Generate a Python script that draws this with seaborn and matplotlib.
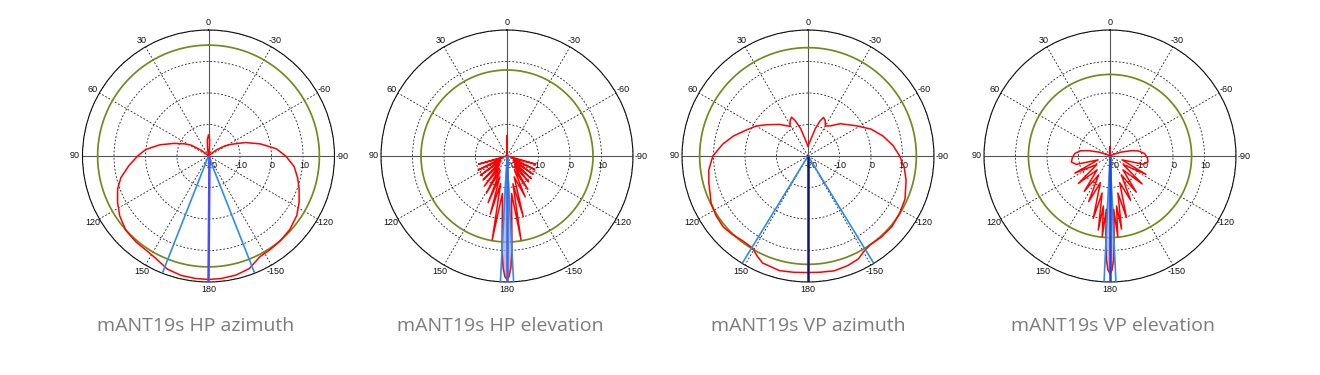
import numpy as np
import pandas as pd
import matplotlib
matplotlib.use("Agg")
import matplotlib.pyplot as plt
import seaborn as sns
from matplotlib.transforms import offset_copy

# ---------------- data (angles in degrees, positive = counter-clockwise / left; gain in dB) -------------
titles = ["mANT19s HP azimuth", "mANT19s HP elevation", "mANT19s VP azimuth", "mANT19s VP elevation"]

theta_ticks = [0, 30, 60, 90, 120, 150, 180, 210, 240, 270, 300, 330]
theta_labels = ["0", "30", "60", "90", "120", "150", "180", "-150", "-120", "-90", "-60", "-30"]
ring_values = [-20, -10, 0, 10]
ring_labels = ["-20", "-10", "0", "10"]

hp_az_deg = [-180, -174, -167, -160, -153, -147, -140, -132, -124, -117, -110, -104, -97, -90, -84,
             -77, -70, -63, -58, -52, -45, -30, -15, -9, -7, -4, 0, 4, 7, 9, 15, 30, 45, 52, 58, 63,
             70, 77, 84, 90, 97, 104, 110, 117, 124, 132, 140, 147, 153, 160, 167, 174, 180]
hp_az_db = [19.2, 19.1, 18.8, 18.0, 15.9, 15.6, 15.3, 14.8, 13.8, 12.3, 10.6, 9.2, 7.4, 4.5, 1.7,
            -3.0, -7.5, -11.8, -14.0, -17.0, -19.5, -20.0, -20.0, -19.7, -17.5, -14.8, -13.3, -14.8,
            -17.5, -19.7, -20.0, -20.0, -19.5, -17.0, -13.5, -11.5, -8.3, -4.2, 0.0, 2.5, 5.5, 8.7,
            10.7, 12.4, 14.0, 15.3, 15.7, 15.9, 16.6, 18.2, 18.9, 19.1, 19.2]

hp_el_deg = [-180, -179, -178, -177, -176, -175, -173, -170.5, -168, -165, -161, -156, -152, -148,
             -144, -140, -137, -133, -129, -125, -120, -116, -111, -106, -101, -95, -3, 0, 3, 95, 101,
             106, 111, 116, 121, 126, 130, 135, 139, 143, 147, 151, 155, 158, 161, 164, 167, 170, 173,
             175, 176, 177, 178, 179, 180]
hp_el_db = [19.2, 18.3, 15.5, 10.0, 2.0, -3.0, -8.0, 7.0, -11.0, -0.1, -13.0, -5.8, -15.0, -7.5,
            -16.0, -9.3, -16.5, -9.5, -17.5, -9.9, -17.5, -10.2, -18.0, -10.6, -19.5, -20.0, -20.0,
            -13.5, -20.0, -20.0, -19.5, -10.6, -18.0, -9.8, -17.5, -9.6, -17.5, -9.3, -16.5, -8.0,
            -15.5, -6.5, -15.0, -4.0, -13.0, -0.8, -11.0, 7.0, -8.0, -3.0, 2.0, 10.0, 15.5, 18.3, 19.2]

vp_az_deg = [-180, -174, -167, -160, -154, -150, -145, -138, -130, -122, -114, -104, -97, -90, -83,
             -75, -67, -58, -45, -36, -30, -26, -22, -19, -15, -10, -5, 0, 5, 10, 15, 20, 23, 27, 31,
             35, 42, 53, 60, 67, 75, 82, 90, 98, 105, 116, 123, 130, 136, 142, 149, 153, 157, 166, 173,
             180]
vp_az_db = [17.0, 17.1, 17.4, 17.0, 16.4, 15.2, 14.4, 14.7, 14.8, 14.3, 13.7, 12.1, 10.8, 9.1, 7.2,
            4.6, 1.8, -1.9, -5.5, -8.2, -9.0, -7.5, -6.8, -8.2, -11.0, -14.5, -16.0, -17.0, -16.0,
            -14.5, -11.0, -8.0, -6.6, -7.5, -9.0, -8.3, -6.5, -3.5, -1.0, 1.2, 4.5, 7.3, 10.2, 11.8,
            12.6, 14.2, 14.8, 15.1, 14.6, 14.0, 14.1, 15.6, 16.9, 17.5, 17.2, 17.0]

vp_el_deg = [-180, -179, -178, -177, -176, -174.5, -172.5, -171, -168, -165, -160, -155, -149, -144,
             -137, -131, -123, -117, -108, -104, -99, -93, -86, -80, -76, -70, -60, -4, 0, 4, 60, 70,
             76, 80, 86, 93, 99, 104, 108, 116, 123, 131, 137, 144, 149, 155, 160, 165, 168, 171, 172.5,
             174.5, 176, 177, 178, 179, 180]
vp_el_db = [17.3, 16.3, 13.0, 6.0, -3.0, 5.7, -4.0, 3.5, -8.0, 0.2, -11.0, -4.5, -13.0, -5.8, -14.0,
            -6.5, -15.0, -7.2, -16.0, -9.2, -7.8, -8.1, -9.0, -10.8, -13.0, -16.5, -19.5, -20.0, -17.0,
            -20.0, -19.5, -16.5, -13.0, -10.5, -8.8, -8.0, -7.6, -9.0, -16.0, -7.6, -15.0, -6.7, -14.0,
            -6.1, -13.0, -4.0, -11.0, 0.5, -8.0, 3.8, -4.0, 5.7, -3.0, 6.0, 13.0, 16.3, 17.3]

# reference (green) circle level, beam-width lines and main-beam direction per panel
ref_level_db = [15.2, 7.3, 14.4, 5.9]
beam_edges_deg = [[158.5, -158.5], [177.0, -177.0], [148.5, -148.5], [177.3, -177.3]]
main_dir_deg = [180, 180, 180, 180]
main_lobe_span = [None, 5, None, 4]   # half-width (deg) of filled main lobe for elevation cuts

patterns = [(hp_az_deg, hp_az_db), (hp_el_deg, hp_el_db), (vp_az_deg, vp_az_db), (vp_el_deg, vp_el_db)]

# ---------------- layout -------------
W, H = 1320, 375
centers_x = [208.5, 507, 808, 1110]
center_y = 156
R = 126
title_x = [196, 500, 808, 1113]
title_y = 326

sns.set_theme(style="white")
plt.rcParams["font.family"] = ["Liberation Sans", "DejaVu Sans"]

fig = plt.figure(figsize=(W / 100, H / 100), dpi=100)
fig.patch.set_facecolor("white")

main_colors = ["#4a4aff", "#2f6cf0", "#14147e", "#2244dd"]

for i, (deg, db) in enumerate(patterns):
    cx = centers_x[i]
    ax = fig.add_axes([(cx - R) / W, (H - center_y - R) / H, 2 * R / W, 2 * R / H], projection="polar")
    ax.set_facecolor("white")
    ax.set_theta_zero_location("N")
    ax.set_theta_direction(1)
    ax.set_ylim(-20, 20)

    ax.set_thetagrids(theta_ticks, labels=theta_labels)
    ax.tick_params(axis="x", pad=-1.5, length=0, labelsize=6.5, colors="#111111")
    ax.set_yticks([-10, 0, 10, 20])
    ax.set_yticklabels([])
    ax.grid(True, color="#222222", linestyle=(0, (2.2, 2.2)), linewidth=0.6)
    ax.spines["polar"].set_color("#111111")
    ax.spines["polar"].set_linewidth(0.8)

    # solid principal axes
    ax.vlines(np.deg2rad([0, 90, 180, 270]), -20, 20, colors="#555555", linewidth=0.8, zorder=2)

    # radial labels along -90 direction, just below the horizontal axis
    for rv, rl in zip(ring_values, ring_labels):
        dx = 3 if rv == -20 else 1
        ax.text(np.deg2rad(-90), rv, rl, fontsize=6.5, color="#111111", ha="center", va="center",
                transform=offset_copy(ax.transData, fig=fig, x=dx, y=-10, units="dots"), zorder=3)

    # green reference circle
    circ_t = np.linspace(0, 2 * np.pi, 361)
    sns.lineplot(x=circ_t, y=np.full(circ_t.shape, ref_level_db[i]), ax=ax, sort=False,
                 estimator=None, color="#728a1e", linewidth=1.25, zorder=3)

    th = np.deg2rad(np.array(deg, dtype=float))
    r = np.array(db, dtype=float)

    # filled main lobe for elevation cuts
    if main_lobe_span[i] is not None:
        d = np.array(deg, dtype=float)
        m = np.abs(np.abs(d) - 180) <= main_lobe_span[i]
        sel_t = np.deg2rad(np.where(d[m] < 0, d[m] + 360, d[m]))
        order = np.argsort(sel_t)
        ft = np.concatenate([[np.deg2rad(180 - main_lobe_span[i])], sel_t[order],
                             [np.deg2rad(180 + main_lobe_span[i])]])
        fr = np.concatenate([[-20], r[m][order], [-20]])
        ax.fill(ft, fr, color="#a9a2ee", alpha=0.75, zorder=3, linewidth=0)

    df = pd.DataFrame({"theta": th, "gain": r})
    sns.lineplot(data=df, x="theta", y="gain", ax=ax, sort=False, estimator=None,
                 color="#ff0000", linewidth=1.1, zorder=4)

    # beam edge lines and main direction
    ax.vlines(np.deg2rad(beam_edges_deg[i]), -20, 20, colors="#2d8ee6", linewidth=1.2, zorder=5)
    ax.vlines(np.deg2rad(main_dir_deg[i]), -20, 20, colors=main_colors[i], linewidth=1.8, zorder=5)

    ax.set_xlabel("")
    ax.set_ylabel("")

    fig.text(title_x[i] / W, 1 - title_y / H, titles[i], ha="center", va="center",
             fontsize=14, color="#7c7c7c", family=["Open Sans", "DejaVu Sans"])

fig.savefig("out.png", dpi=100, facecolor="white")
